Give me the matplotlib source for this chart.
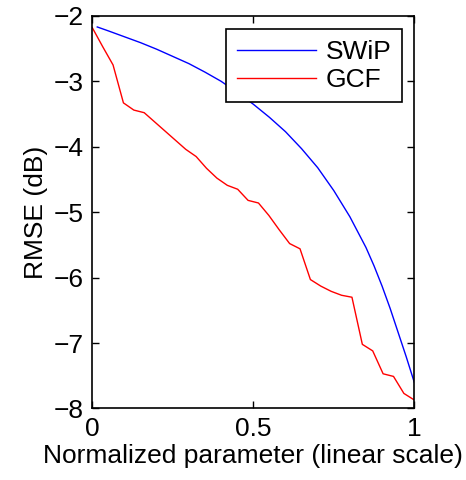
import matplotlib
matplotlib.use("Agg")
import matplotlib.pyplot as plt
import numpy as np

# GCF sampled on 32 evenly spaced points of the normalized parameter
gcf_x = np.linspace(0, 1, 32)
gcf_y = [-2.18, -2.47, -2.75, -3.33, -3.44, -3.48, -3.62, -3.76,
         -3.90, -4.04, -4.15, -4.33, -4.48, -4.59, -4.65, -4.82,
         -4.86, -5.05, -5.27, -5.48, -5.56, -6.03, -6.13, -6.21,
         -6.27, -6.30, -7.02, -7.12, -7.47, -7.51, -7.77, -7.87]

swip_x = [0.0155, 0.05, 0.1, 0.15, 0.2, 0.25, 0.3, 0.35, 0.4, 0.45,
          0.5, 0.55, 0.6, 0.65, 0.7, 0.75, 0.8, 0.85, 0.875, 0.9,
          0.925, 0.95, 0.975, 1.0]
swip_y = [-2.17, -2.23, -2.32, -2.41, -2.51, -2.62, -2.73, -2.86, -3.00, -3.17,
          -3.35, -3.55, -3.77, -4.03, -4.32, -4.67, -5.07, -5.54, -5.82, -6.13,
          -6.47, -6.84, -7.21, -7.60]

x_ticks = [0, 0.5, 1]
x_ticklabels = ["0", "0.5", "1"]
y_ticks = [-8, -7, -6, -5, -4, -3, -2]

plt.rcParams['font.family'] = ['Liberation Sans', 'DejaVu Sans']
plt.rcParams['font.size'] = 19

fig = plt.figure(figsize=(4.66, 4.8), dpi=100)
ax = fig.add_axes([0.198, 0.149, 0.691, 0.818])

ax.plot(swip_x, swip_y, color='#0000ff', lw=1.0, label='SWiP')
ax.plot(gcf_x, gcf_y, color='#ff0000', lw=1.0, label='GCF')

ax.set_xlim(0, 1)
ax.set_ylim(-8, -2)
ax.set_xticks(x_ticks)
ax.set_xticklabels(x_ticklabels)
ax.set_yticks(y_ticks)
ax.tick_params(direction='in', length=5, width=1, top=True, right=True, pad=6)
for s in ax.spines.values():
    s.set_linewidth(1.2)

ax.set_xlabel('Normalized parameter (linear scale)', labelpad=2)
ax.set_ylabel('RMSE (dB)', labelpad=4)

leg = ax.legend(loc='upper right', bbox_to_anchor=(401.7 / 466, 1 - 29.3 / 480),
                bbox_transform=fig.transFigure, borderaxespad=0,
                fancybox=False, framealpha=1, edgecolor='black',
                handlelength=3.0, handletextpad=0.35, labelspacing=0.15,
                borderpad=0.4)
leg.get_frame().set_linewidth(1.2)

fig.savefig('out.png', dpi=100)
